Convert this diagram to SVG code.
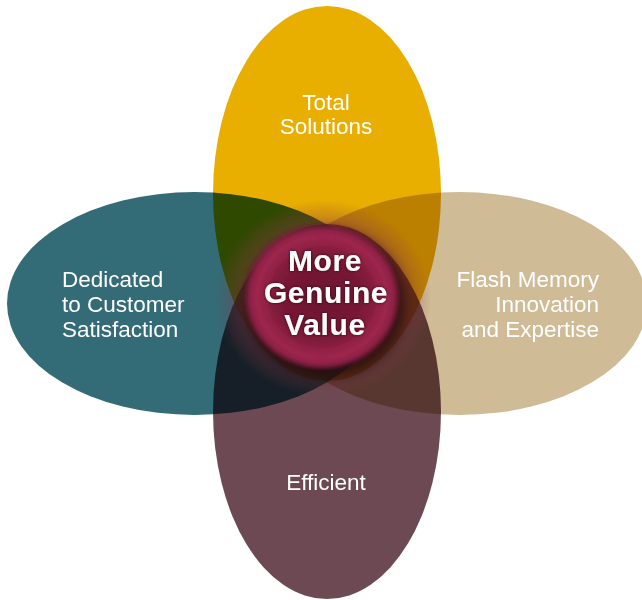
<svg xmlns="http://www.w3.org/2000/svg" width="642" height="600" viewBox="0 0 642 600">
  <style>
    .petal { mix-blend-mode: multiply; }
    .lbl { font-family: "Liberation Sans", Arial, Helvetica, sans-serif; font-size: 22.5px; fill: #ffffff; }
    .mid { text-anchor: middle; }
    .end { text-anchor: end; }
    .core-lbl { font-family: "Liberation Sans", Arial, Helvetica, sans-serif; font-size: 30px; font-weight: bold; letter-spacing: 0.6px; fill: #ffffff; text-anchor: middle; }
  </style>
  <defs>
    <radialGradient id="halo" cx="0.5" cy="0.5" r="0.5">
      <stop offset="0.6" stop-color="#8c2a48" stop-opacity="0.8"/>
      <stop offset="0.8" stop-color="#8c3a4a" stop-opacity="0.35"/>
      <stop offset="1" stop-color="#8c3a4a" stop-opacity="0"/>
    </radialGradient>
    <radialGradient id="core" cx="0.5" cy="0.5" r="0.5">
      <stop offset="0" stop-color="#6a1430"/>
      <stop offset="0.6" stop-color="#7c1a38"/>
      <stop offset="0.86" stop-color="#a0264f"/>
      <stop offset="1" stop-color="#7e1c3e"/>
    </radialGradient>
    <filter id="soft" x="-20%" y="-20%" width="140%" height="140%">
      <feGaussianBlur stdDeviation="2.2"/>
    </filter>
    <filter id="shadowBlur" x="-30%" y="-30%" width="160%" height="160%">
      <feGaussianBlur stdDeviation="6"/>
    </filter>
    <filter id="txtShadow" x="-20%" y="-30%" width="140%" height="160%">
      <feGaussianBlur in="SourceAlpha" stdDeviation="1.6" result="b"/>
      <feFlood flood-color="#2a0610" flood-opacity="0.9"/>
      <feComposite in2="b" operator="in" result="s"/>
      <feMerge><feMergeNode in="s"/><feMergeNode in="SourceGraphic"/></feMerge>
    </filter>
  </defs>
  <rect width="642" height="600" fill="#ffffff"/>

  <g id="node-customer">
    <ellipse class="petal" cx="194.5" cy="303.5" rx="187.5" ry="111.5" fill="#336b76"/>
    <text class="lbl" x="62" y="287">Dedicated</text>
    <text class="lbl" x="62" y="312">to Customer</text>
    <text class="lbl" x="62" y="337">Satisfaction</text>
  </g>

  <g id="node-flash">
    <ellipse class="petal" cx="459.5" cy="303.5" rx="187.5" ry="111.5" fill="#cfbb95"/>
    <text class="lbl end" x="599" y="287">Flash Memory</text>
    <text class="lbl end" x="599" y="312">Innovation</text>
    <text class="lbl end" x="599" y="337">and Expertise</text>
  </g>

  <g id="node-total">
    <ellipse class="petal" cx="327" cy="193.5" rx="114" ry="187.5" fill="#e8ae00"/>
    <text class="lbl mid" x="326" y="110">Total</text>
    <text class="lbl mid" x="326" y="134">Solutions</text>
  </g>

  <g id="node-efficient">
    <ellipse class="petal" cx="327" cy="411.5" rx="114" ry="187.5" fill="#6d4a53"/>
    <text class="lbl mid" x="326" y="490">Efficient</text>
  </g>

  <g id="connectors"></g>

  <g id="node-core">
    <ellipse cx="323" cy="298" rx="108" ry="98" fill="url(#halo)"/>
    <ellipse cx="326" cy="304" rx="80" ry="74" fill="#000000" opacity="0.55" filter="url(#shadowBlur)"/>
    <ellipse cx="322" cy="297" rx="76" ry="71" fill="url(#core)" filter="url(#soft)"/>
    <g filter="url(#txtShadow)">
      <text class="core-lbl" x="325" y="271">More</text>
      <text class="core-lbl" x="326" y="303">Genuine</text>
      <text class="core-lbl" x="325" y="335">Value</text>
    </g>
  </g>
</svg>
